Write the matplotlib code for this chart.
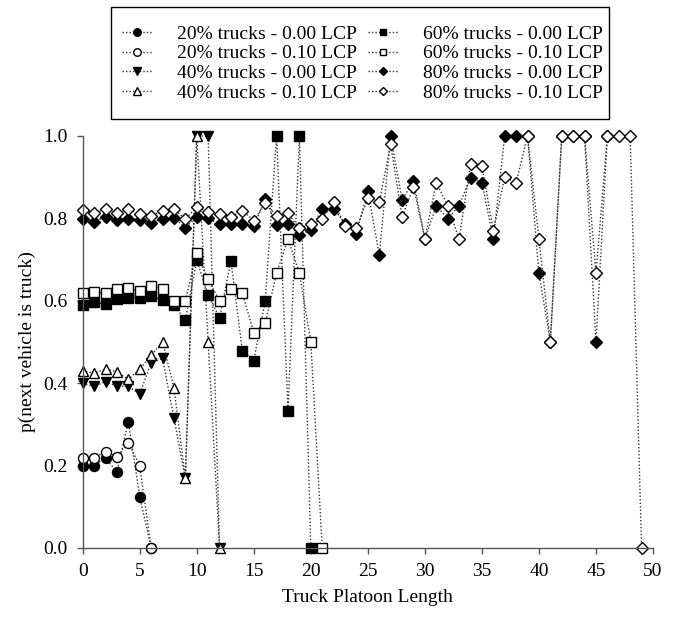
import matplotlib
matplotlib.use("Agg")
import matplotlib.pyplot as plt
from matplotlib.patches import Rectangle

plt.rcParams['font.family'] = ['Liberation Serif', 'DejaVu Serif']
plt.rcParams['font.size'] = 14

labels = [
    "20% trucks - 0.00 LCP", "20% trucks - 0.10 LCP",
    "40% trucks - 0.00 LCP", "40% trucks - 0.10 LCP",
    "60% trucks - 0.00 LCP", "60% trucks - 0.10 LCP",
    "80% trucks - 0.00 LCP", "80% trucks - 0.10 LCP",
]

t20_000 = [0.20, 0.20, 0.218, 0.185, 0.307, 0.125, 0.0]
t20_010 = [0.218, 0.219, 0.234, 0.222, 0.256, 0.20, 0.0]
t40_000 = [0.40, 0.392, 0.404, 0.393, 0.392, 0.374, 0.45, 0.46, 0.315, 0.169,
           1.0, 1.0, 0.0]
t40_010 = [0.43, 0.424, 0.434, 0.428, 0.409, 0.434, 0.468, 0.50, 0.389, 0.169,
           1.0, 0.5, 0.0]
t60_000 = [0.591, 0.596, 0.592, 0.604, 0.608, 0.608, 0.612, 0.602, 0.59, 0.553,
           0.699, 0.614, 0.559, 0.697, 0.478, 0.455, 0.60, 1.0, 0.333, 1.0,
           0.0]
t60_010 = [0.618, 0.622, 0.618, 0.629, 0.63, 0.624, 0.637, 0.628, 0.60, 0.60,
           0.715, 0.652, 0.60, 0.629, 0.618, 0.523, 0.545, 0.667, 0.75, 0.667,
           0.50, 0.0]
t80_000 = [0.798, 0.792, 0.804, 0.796, 0.799, 0.796, 0.79, 0.799, 0.802, 0.777,
           0.804, 0.80, 0.786, 0.786, 0.786, 0.782, 0.846, 0.784, 0.786, 0.76,
           0.772, 0.824, 0.824, 0.787, 0.763, 0.867, 0.711, 1.0, 0.845, 0.891,
           0.75, 0.831, 0.799, 0.831, 0.899, 0.887, 0.75, 1.0, 1.0, 1.0,
           0.667, 0.5, 1.0, 1.0, 1.0, 0.5, 1.0]
t80_010 = [0.82, 0.814, 0.822, 0.814, 0.822, 0.811, 0.806, 0.819, 0.822, 0.799,
           0.827, 0.816, 0.81, 0.804, 0.819, 0.794, 0.838, 0.806, 0.812, 0.776,
           0.786, 0.798, 0.839, 0.782, 0.776, 0.849, 0.839, 0.98, 0.803, 0.877,
           0.75, 0.887, 0.831, 0.75, 0.931, 0.928, 0.77, 0.9, 0.887, 1.0,
           0.75, 0.5, 1.0, 1.0, 1.0, 0.667, 1.0, 1.0, 1.0, 0.0]

series = [t20_000, t20_010, t40_000, t40_010, t60_000, t60_010, t80_000, t80_010]
markers = ['o', 'o', 'v', '^', 's', 's', 'D', 'D']
filled = [True, False, True, False, True, False, True, False]
msizes = [7.2, 7.2, 7.5, 7.5, 6.5, 6.5, 5.8, 5.8]

xticks = list(range(0, 51, 5))
yticks = [0.0, 0.2, 0.4, 0.6, 0.8, 1.0]

W, H = 682, 623
fig = plt.figure(figsize=(W / 100, H / 100), dpi=100)
ax = fig.add_axes([82.7 / W, 1 - 548 / H, (653 - 82.7) / W, (548 - 136) / H])

for ys, m, f, ms, lab in zip(series, markers, filled, msizes, labels):
    xs = list(range(len(ys)))
    ax.plot(xs, ys, linestyle=(0, (1, 1.5)), linewidth=1.0, color='#333333',
            marker=m, markersize=ms, markerfacecolor='black' if f else 'white',
            markeredgecolor='black', markeredgewidth=1.0, clip_on=False,
            label=lab)

ax.set_xlim(0, 50)
ax.set_ylim(0, 1.0)
ax.set_xticks(xticks)
ax.set_xticklabels([str(v) for v in xticks])
ax.set_yticks(yticks)
ax.set_yticklabels([f"{v:.1f}" for v in yticks])
for s in ['top', 'right']:
    ax.spines[s].set_visible(False)
for s in ['left', 'bottom']:
    ax.spines[s].set_color('#555555')
    ax.spines[s].set_linewidth(1.0)
ax.tick_params(axis='both', direction='out', length=4, width=1.0,
               color='#555555', labelsize=14, pad=7)

ax.set_xlabel("Truck Platoon Length", fontsize=14, labelpad=6)
ax.set_ylabel("p(next vehicle is truck)", fontsize=14, labelpad=5)

leg = fig.legend(loc='upper left', bbox_to_anchor=(122 / W, 1 - 25 / H),
                 ncol=2, frameon=False,
                 fontsize=14, handlelength=1.55, handletextpad=1.29,
                 columnspacing=0.55, labelspacing=0.11, borderpad=0.0,
                 borderaxespad=0.0, markerscale=0.75)

fig.patches.append(Rectangle((111 / W, 1 - 119 / H), 498 / W, 112 / H,
                             transform=fig.transFigure, fill=False,
                             edgecolor='black', linewidth=1.0))

fig.savefig("out.png", dpi=100)
